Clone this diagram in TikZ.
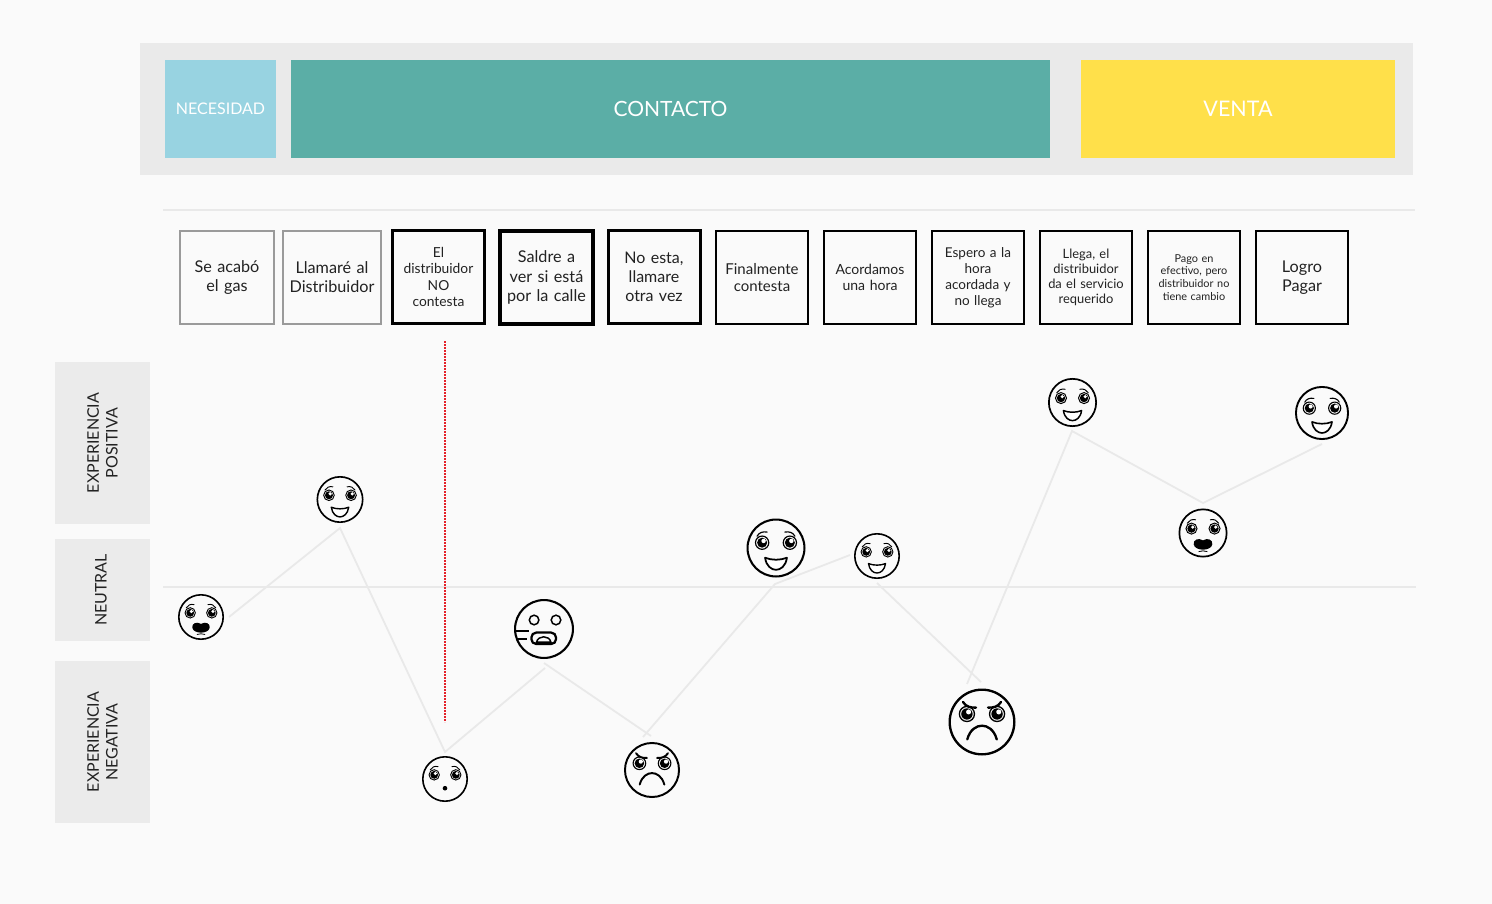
\documentclass[tikz,border=0pt]{standalone}
\usepackage{fontspec}
\setmainfont{Lato}
\definecolor{bgc}{HTML}{FAFAFA}
\definecolor{bandc}{HTML}{EAEAEA}
\definecolor{linec}{HTML}{E9E9E9}
\definecolor{sidec}{HTML}{EBEBEB}
\definecolor{necc}{HTML}{98D3E1}
\definecolor{conc}{HTML}{5BAEA6}
\definecolor{venc}{HTML}{FFE04A}
\definecolor{grayb}{HTML}{9A9A9A}
\definecolor{textc}{HTML}{222222}
\definecolor{redg}{HTML}{E4222A}
\newcommand{\setfs}[1]{\pgfmathsetmacro\fsl{#1*1.18}\fontsize{#1}{\fsl}\selectfont}
\tikzset{
  phase/.style={inner sep=0pt,text=white,align=center},
  stepbox/.style={draw=black,line width=2pt,fill=bgc,inner sep=0pt,align=center,text=textc,text width=#1},
  stepbox/.default=80pt,
  sidebox/.style={fill=sidec,inner sep=0pt,text=textc,align=center},
  trail/.style={draw=linec,line width=1.8pt},
  guide/.style={draw=linec,line width=1.6pt},
  facering/.style={draw=black,circle,fill=bgc,inner sep=0pt},
  fs/.style={font=\setfs{#1}},
}
% common eyes
\newcommand{\feye}[2]{%
  \draw[line width=0.04pt*\fr] (#1,#2) circle (.225);
  \fill[black] (#1,#2) circle (.17);
  \fill[white] (#1+.05,#2-.06) circle (.075);}
\newcommand{\fbrows}{%
  \draw[line width=0.04pt*\fr,line cap=round] (-.64,-.40) .. controls (-.58,-.52) and (-.45,-.57) .. (-.30,-.54);
  \draw[line width=0.04pt*\fr,line cap=round] (.64,-.40) .. controls (.58,-.52) and (.45,-.57) .. (.30,-.54);}
\newcommand{\ftypehappy}{%
  \feye{-.47}{-.18}\feye{.47}{-.18}\fbrows
  \draw[line width=0.06pt*\fr,line join=round,fill=white] (-.37,.33) .. controls (-.15,.42) and (.15,.42) .. (.37,.33) .. controls (.33,.62) and (.15,.74) .. (0,.74) .. controls (-.15,.74) and (-.33,.62) .. (-.37,.33) -- cycle;}
\newcommand{\ftypeopen}{%
  \feye{-.47}{-.18}\feye{.47}{-.18}\fbrows
  \fill[black] (0,.30) .. controls (-.2,.18) and (-.40,.28) .. (-.38,.46) .. controls (-.36,.62) and (-.15,.68) .. (0,.68) .. controls (.15,.68) and (.36,.62) .. (.38,.46) .. controls (.40,.28) and (.2,.18) .. (0,.30) -- cycle;
  \draw[line width=0.035pt*\fr] (-.18,.76) .. controls (-.08,.72) and (.08,.72) .. (.18,.76);}
\newcommand{\ftypesurprised}{%
  \feye{-.47}{-.18}\feye{.47}{-.18}\fbrows
  \fill[black] (0,.40) circle (.1);}
\newcommand{\ftypegrimace}{%
  \draw[line width=0.05pt*\fr] (-.33,-.30) circle (.16) (.40,-.30) circle (.16);
  \draw[line width=0.075pt*\fr,rounded corners=.16*\fr pt] (-.42,.12) rectangle (.40,.50);
  \draw[line width=0.05pt*\fr] (-.25,.44) .. controls (-.2,.2) and (.18,.2) .. (.23,.44) -- cycle;
  \draw[line width=0.06pt*\fr] (-.96,.07) -- (-.50,.07) (-.93,.34) -- (-.57,.34);}
\newcommand{\ftypeangry}{%
  \feye{-.45}{-.24}\feye{.45}{-.24}
  \draw[line width=0.07pt*\fr,line cap=round] (-.57,-.60) .. controls (-.48,-.45) and (-.32,-.42) .. (-.18,-.43);
  \draw[line width=0.07pt*\fr,line cap=round] (.57,-.60) .. controls (.48,-.45) and (.32,-.42) .. (.18,-.43);
  \draw[line width=0.07pt*\fr,line cap=round] (-.44,.52) .. controls (-.36,.22) and (-.16,.11) .. (0,.11) .. controls (.16,.11) and (.36,.22) .. (.44,.52);}
\newcommand{\face}[5]{% name,x,y,r,type
  \node[facering,line width=0.07pt*#4,minimum size=2pt*#4-0.07pt*#4] (#1) at (#2,#3) {};
  \begin{scope}[shift={(#2,#3)},x=#4pt,y=-#4pt]
    \def\fr{#4}\csname ftype#5\endcsname
  \end{scope}}
\begin{document}
\begin{tikzpicture}[x=1pt,y=-1pt]
\useasboundingbox (0,0) rectangle (1492,904);
\fill[bgc] (0,0) rectangle (1492,904);
% header
\fill[bandc] (140,43) rectangle (1413,175);
\node[phase,fill=necc,minimum width=111pt,minimum height=98pt,fs=16] (nec) at (220.5,109) {NECESIDAD};
\node[phase,fill=conc,minimum width=759pt,minimum height=98pt,fs=21] (con) at (670.5,109) {CONTACTO};
\node[phase,fill=venc,minimum width=314pt,minimum height=98pt,fs=21.5] (ven) at (1238,109) {VENTA};
% guides
\coordinate (g1a) at (163,210); \coordinate (g1b) at (1415,210);
\coordinate (g2a) at (163,587); \coordinate (g2b) at (1416,587);
\draw[guide] (g1a) -- (g1b);
\draw[guide] (g2a) -- (g2b);
% step boxes
\node[stepbox=94pt,draw=grayb,line width=1.6pt,fs=16.2,minimum height=93pt] (s1) at (227,277.5) {Se acabó\\el gas};
\node[stepbox=98pt,draw=grayb,line width=1.6pt,fs=16.2,minimum height=93pt] (s2) at (332,277.5) {Llamaré al\\Distribuidor};
\node[stepbox=92pt,line width=3pt,fs=13.8,minimum height=92pt] (s3) at (438.5,277) {El\\distribuidor\\NO\\contesta};
\node[stepbox=93pt,line width=4pt,fs=16.2,minimum height=93pt] (s4) at (546.5,277.5) {Saldre a\\ver si está\\por la calle};
\node[stepbox=92pt,line width=3pt,fs=16,minimum height=92pt] (s5) at (654,277) {No esta,\\llamare\\otra vez};
\node[stepbox=92pt,fs=15,minimum height=92pt] (s6) at (762,277.5) {Finalmente\\contesta};
\node[stepbox=92pt,fs=14,minimum height=92pt] (s7) at (870,277.5) {Acordamos\\una hora};
\node[stepbox=92pt,fs=13.5,minimum height=92pt] (s8) at (978,277.5) {Espero a la\\hora\\acordada y\\no llega};
\node[stepbox=92pt,fs=12.9,minimum height=92pt] (s9) at (1086,277.5) {Llega, el\\distribuidor\\da el servicio\\requerido};
\node[stepbox=92pt,fs=10.9,minimum height=92pt] (s10) at (1194,277.5) {Pago en\\efectivo, pero\\distribuidor no\\tiene cambio};
\node[stepbox=92pt,fs=16.2,minimum height=92pt] (s11) at (1302,277.5) {Logro\\Pagar};
% side labels
\node[sidebox,minimum width=95pt,minimum height=162pt] (pos) at (102.5,443) {};
\node[sidebox,minimum width=95pt,minimum height=102pt] (neu) at (102.5,590) {};
\node[sidebox,minimum width=95pt,minimum height=162pt] (neg) at (102.5,742) {};
\node[inner sep=0pt,rotate=90,align=center,text=textc,fs=16] (post) at (102.5,443) {EXPERIENCIA\\POSITIVA};
\node[inner sep=0pt,rotate=90,align=center,text=textc,fs=16] (neut) at (101,590) {NEUTRAL};
\node[inner sep=0pt,rotate=90,align=center,text=textc,fs=16] (negt) at (102.5,742) {EXPERIENCIA\\NEGATIVA};
% trail coordinates
\coordinate (p1) at (229,617); \coordinate (p2) at (340,528);
\coordinate (p3) at (445,752); \coordinate (p4) at (545,668);
\coordinate (p5) at (544,663); \coordinate (p6) at (651,736);
\coordinate (p7) at (643,737); \coordinate (p8) at (775,584);
\coordinate (p9) at (850,555); \coordinate (p10) at (877,583);
\coordinate (p11) at (981,682); \coordinate (p12) at (967,684);
\coordinate (p13) at (1072,431); \coordinate (p14) at (1203,503);
\coordinate (p15) at (1322,444);
\draw[trail] (p1) -- (p2) -- (p3) -- (p4);
\draw[trail] (p5) -- (p6);
\draw[trail] (p7) -- (p8) -- (p9);
\draw[trail] (p10) -- (p11);
\draw[trail] (p12) -- (p13) -- (p14) -- (p15);
% red guide
\coordinate (ra) at (445,341); \coordinate (rb) at (445,722);
\draw[redg,line width=1.6pt,dash pattern=on 1.6pt off 1.4pt] (ra) -- (rb);
% faces
\face{f1}{201}{617}{23}{open}
\face{f2}{340}{499.5}{23.5}{happy}
\face{f3}{445}{779}{23}{surprised}
\face{f4}{544}{629}{30}{grimace}
\face{f5}{652}{770}{28}{angry}
\face{f6}{776}{548}{29.5}{happy}
\face{f7}{877}{556}{23}{happy}
\face{f8}{982}{722}{33.5}{angry}
\face{f9}{1072.5}{402.5}{24.5}{happy}
\face{f10}{1203}{533}{24.5}{open}
\face{f11}{1322}{413}{27}{happy}
\end{tikzpicture}
\end{document}
